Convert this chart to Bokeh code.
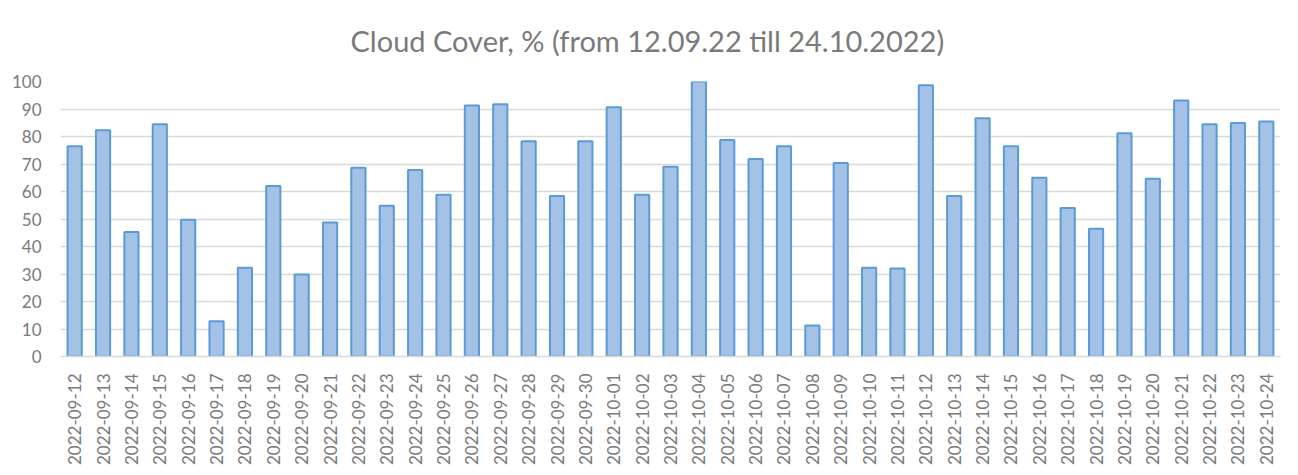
from bokeh.plotting import figure
from bokeh.models import ColumnDataSource, FixedTicker, FactorRange, Range1d
from bokeh.embed import file_html
from bokeh.resources import INLINE
import math

dates = ["2022-09-12", "2022-09-13", "2022-09-14", "2022-09-15", "2022-09-16", "2022-09-17",
         "2022-09-18", "2022-09-19", "2022-09-20", "2022-09-21", "2022-09-22", "2022-09-23",
         "2022-09-24", "2022-09-25", "2022-09-26", "2022-09-27", "2022-09-28", "2022-09-29",
         "2022-09-30", "2022-10-01", "2022-10-02", "2022-10-03", "2022-10-04", "2022-10-05",
         "2022-10-06", "2022-10-07", "2022-10-08", "2022-10-09", "2022-10-10", "2022-10-11",
         "2022-10-12", "2022-10-13", "2022-10-14", "2022-10-15", "2022-10-16", "2022-10-17",
         "2022-10-18", "2022-10-19", "2022-10-20", "2022-10-21", "2022-10-22", "2022-10-23",
         "2022-10-24"]
cloud_cover = [76.5, 82.3, 45.3, 84.5, 49.7, 12.8, 32.3, 62.0, 29.8, 48.7, 68.6, 54.8,
               67.8, 58.8, 91.3, 91.7, 78.3, 58.4, 78.3, 90.6, 58.8, 69.0, 100.0, 78.7,
               71.8, 76.5, 11.3, 70.4, 32.3, 32.0, 98.6, 58.4, 86.6, 76.5, 65.0, 54.0,
               46.5, 81.2, 64.6, 93.1, 84.5, 84.9, 85.5]
y_ticks = [0, 10, 20, 30, 40, 50, 60, 70, 80, 90, 100]
title_text = "Cloud Cover, % (from 12.09.22 till 24.10.2022)"

FONT = "Lato"
GRAY = "#7a7a7a"

src = ColumnDataSource(dict(d=dates, v=cloud_cover))

p = figure(width=1290, height=470, output_backend="svg", toolbar_location=None,
           x_range=FactorRange(*dates, range_padding=0), y_range=Range1d(0, 100),
           title=title_text,
           min_border_left=60, min_border_right=10, min_border_top=81, min_border_bottom=114)
p.outline_line_color = None
p.background_fill_color = "white"
p.border_fill_color = "white"

p.title.align = "left"
p.title.vertical_align = "top"
p.title.offset = 290
p.title.standoff = 44
p.title.text_font = FONT
p.title.text_font_size = "29px"
p.title.text_font_style = "normal"
p.title.text_color = GRAY

p.vbar(x="d", top="v", width=0.5, source=src, fill_color="#a4c2e6",
       line_color="#5b9bd5", line_width=2)

p.xgrid.grid_line_color = None
p.ygrid.grid_line_color = "#d9d9d9"
p.ygrid.grid_line_width = 1.5

p.yaxis.ticker = FixedTicker(ticks=y_ticks)
p.yaxis.axis_line_color = None
p.yaxis.major_tick_line_color = None
p.yaxis.major_tick_out = 0
p.yaxis.major_tick_in = 0
p.yaxis.minor_tick_line_color = None
p.yaxis.major_label_standoff = 19
p.yaxis.major_label_text_font = FONT
p.yaxis.major_label_text_font_size = "17px"
p.yaxis.major_label_text_color = GRAY

p.xaxis.axis_line_color = "#d9d9d9"
p.xaxis.axis_line_width = 1.5
p.xaxis.major_tick_line_color = None
p.xaxis.major_tick_out = 0
p.xaxis.major_tick_in = 0
p.xaxis.minor_tick_line_color = None
p.xaxis.major_label_orientation = math.pi / 2
p.xaxis.major_label_standoff = 17
p.xaxis.major_label_text_font = FONT
p.xaxis.major_label_text_font_size = "17px"
p.xaxis.major_label_text_color = GRAY

open("out.html", "w").write(file_html(p, INLINE))
